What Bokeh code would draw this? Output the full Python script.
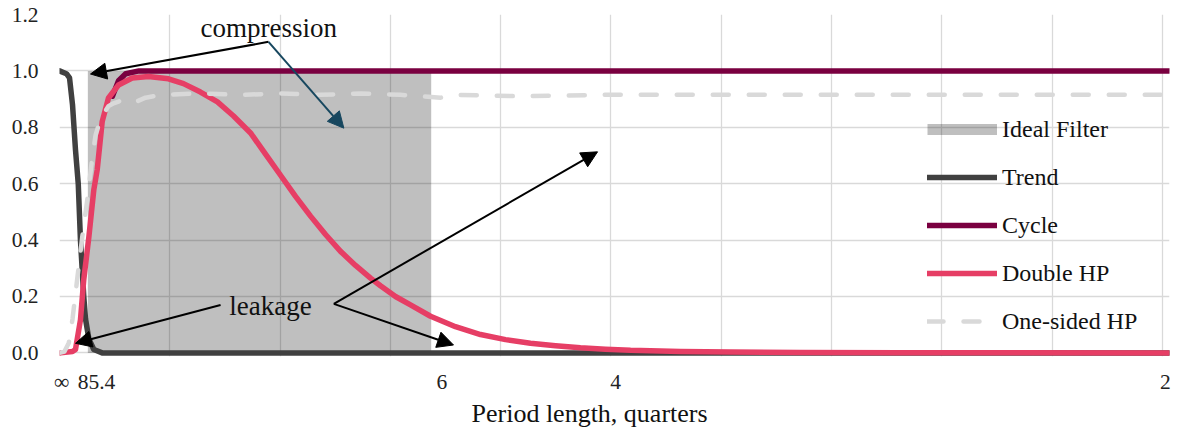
from bokeh.plotting import figure
from bokeh.models import (FixedTicker, NumeralTickFormatter, Range1d, Legend, LegendItem,
                          Label, Arrow, NormalHead, Title)
from bokeh.embed import file_html
from bokeh.resources import INLINE

FONT = "Liberation Serif"

# x values: frequency as a fraction of Nyquist (= 2 / period length in quarters)
ideal_x = [0.0257, 0.3370]
ideal_lo = [0.0, 0.0]
ideal_hi = [1.0, 1.0]

trend_x = [0.0, 0.0063, 0.0091, 0.0118, 0.0145, 0.0170, 0.0190, 0.0220, 0.0236,
           0.0266, 0.0311, 0.0387, 1.0063]
trend_y = [1.0, 0.99, 0.975, 0.88, 0.72, 0.60, 0.40, 0.20, 0.12,
           0.05, 0.012, 0.0, 0.0]

cycle_x = [0.0480, 0.0535, 0.0600, 0.0720, 1.0063]
cycle_y = [0.91, 0.965, 0.99, 1.0, 1.0]

dhp_x = [0.0009, 0.0118, 0.0145, 0.0190, 0.0220, 0.0266, 0.0311, 0.0342, 0.0387,
         0.0444, 0.0535, 0.0659, 0.0807, 0.0988, 0.1124, 0.1278, 0.1432, 0.1578,
         0.1732, 0.1868, 0.2004, 0.2140, 0.2276, 0.2412, 0.2548, 0.2684, 0.2820,
         0.2910, 0.3046, 0.3182, 0.3364, 0.3590, 0.3817, 0.4044, 0.4270, 0.4497,
         0.4723, 0.4950, 0.5177, 0.5630, 0.6083, 0.6718, 0.7625, 1.0063]
dhp_y = [0.0, 0.005, 0.012, 0.117, 0.26, 0.41, 0.578, 0.65, 0.82,
         0.904, 0.95, 0.975, 0.98, 0.972, 0.955, 0.925, 0.89, 0.84,
         0.78, 0.705, 0.63, 0.555, 0.485, 0.42, 0.36, 0.31, 0.265,
         0.238, 0.20, 0.17, 0.13, 0.093, 0.065, 0.047, 0.034, 0.025,
         0.018, 0.013, 0.009, 0.005, 0.003, 0.0015, 0.0007, 0.0]

oshp_x = [0.0, 0.0045, 0.0084, 0.0118, 0.0160, 0.0206, 0.0251, 0.0290, 0.0326,
          0.0372, 0.0444, 0.0490, 0.0598, 0.0689, 0.0780, 0.0916, 0.1278, 0.1641,
          0.2004, 0.2366, 0.2729, 0.3092, 0.3273, 0.3454, 0.3635, 0.4180, 0.4905, 1.0063]
oshp_y = [0.0, 0.005, 0.035, 0.12, 0.26, 0.41, 0.54, 0.67, 0.77,
          0.83, 0.875, 0.885, 0.90, 0.89, 0.905, 0.915, 0.92, 0.915,
          0.92, 0.915, 0.92, 0.915, 0.91, 0.905, 0.915, 0.91, 0.915, 0.915]

tick_labels = ["\u221e", "85.4", "6", "4", "2"]
tick_pos = [0.002, 0.0335, 0.3467, 0.5041, 1.0027]
y_ticks = [0.0, 0.2, 0.4, 0.6, 0.8, 1.0, 1.2]
x_grid = [0.0, 0.1, 0.2, 0.3, 0.4, 0.5, 0.6, 0.7, 0.8, 0.9, 1.0]

# annotation texts and arrows (start_x, start_y, end_x, end_y)
ann_compression = ("compression", 0.1898, 1.152)
ann_leakage = ("leakage", 0.1913, 0.167)
arrows_black = [(0.1895, 1.103, 0.0281, 0.989),
                (0.1460, 0.170, 0.0145, 0.034),
                (0.2487, 0.174, 0.3572, 0.028),
                (0.2487, 0.174, 0.4878, 0.713)]
arrows_blue = [(0.1895, 1.103, 0.2578, 0.797)]

p = figure(frame_width=1110, frame_height=342,
           x_range=Range1d(0, 1.00635), y_range=Range1d(-0.0128, 1.2),
           output_backend="svg", toolbar_location=None,
           min_border_left=59, min_border_right=14, min_border_top=14,
           min_border_bottom=70)
p.outline_line_color = None
p.background_fill_color = "white"

# grids
p.xgrid.ticker = FixedTicker(ticks=x_grid)
p.ygrid.ticker = FixedTicker(ticks=y_ticks)
for g in (p.xgrid, p.ygrid):
    g.grid_line_color = "#d9d9d9"
    g.grid_line_width = 1.3

# axes
p.xaxis.ticker = FixedTicker(ticks=tick_pos)
p.xaxis.major_label_overrides = {t: l for t, l in zip(tick_pos, tick_labels)}
p.yaxis.ticker = FixedTicker(ticks=y_ticks)
p.yaxis.formatter = NumeralTickFormatter(format="0.0")
for ax in (p.xaxis, p.yaxis):
    ax.axis_line_color = None
    ax.major_tick_line_color = None
    ax.minor_tick_line_color = None
    ax.major_tick_out = 0
    ax.major_tick_in = 0
    ax.major_label_text_font = FONT
    ax.major_label_text_font_size = "21.5px"
    ax.major_label_text_color = "#222222"
p.yaxis.major_label_standoff = 21
p.xaxis.major_label_standoff = 13

# glyphs
ideal = p.varea(x=ideal_x, y1=ideal_lo, y2=ideal_hi, fill_color="black", fill_alpha=0.25)
ideal_leg = p.line(x=ideal_x, y=ideal_hi, line_color="black", line_alpha=0.25,
                   line_width=11, line_cap="butt", visible=False)
trend = p.line(trend_x, trend_y, line_color="#404040", line_width=5.5,
               line_join="round", line_cap="round")
cycle = p.line(cycle_x, cycle_y, line_color="#7A0040", line_width=5.5,
               line_join="round", line_cap="round")
dhp = p.line(dhp_x, dhp_y, line_color="#E63E65", line_width=5.5,
             line_join="round", line_cap="round")
oshp = p.line(oshp_x, oshp_y, line_color="#d9d9d9", line_width=4.5,
              line_dash="16 20", line_join="round", line_cap="round")

legend = Legend(items=[LegendItem(label="Ideal Filter", renderers=[ideal_leg]),
                       LegendItem(label="Trend", renderers=[trend]),
                       LegendItem(label="Cycle", renderers=[cycle]),
                       LegendItem(label="Double HP", renderers=[dhp]),
                       LegendItem(label="One-sided HP", renderers=[oshp])],
                location=(868, 21), orientation="vertical",
                glyph_width=70, glyph_height=28, label_height=28, spacing=20,
                label_standoff=5, padding=0, margin=0,
                label_text_font=FONT, label_text_font_size="24px",
                label_text_color="#111111",
                border_line_alpha=0, background_fill_alpha=0)
p.add_layout(legend)

# annotations
for txt, x, y in (ann_compression, ann_leakage):
    p.add_layout(Label(x=x, y=y, text=txt, text_align="center", text_baseline="middle",
                       text_font=FONT, text_font_size="27px", text_color="#111111"))

for xs, ys, xe, ye in arrows_black:
    p.add_layout(Arrow(end=NormalHead(size=16, fill_color="black", line_color="black",
                                      line_width=1),
                       x_start=xs, y_start=ys, x_end=xe, y_end=ye,
                       line_color="black", line_width=2))
for xs, ys, xe, ye in arrows_blue:
    p.add_layout(Arrow(end=NormalHead(size=16, fill_color="#17475F", line_color="#17475F",
                                      line_width=1),
                       x_start=xs, y_start=ys, x_end=xe, y_end=ye,
                       line_color="#17475F", line_width=2))

# x-axis title (centred on the whole chart, as in the original)
p.add_layout(Title(text="Period length, quarters", align="left", offset=412, standoff=0,
                   text_font=FONT, text_font_size="26px", text_font_style="normal",
                   text_line_height=1.0, text_color="#111111"), "below")

open("out.html", "w").write(file_html(p, INLINE))
